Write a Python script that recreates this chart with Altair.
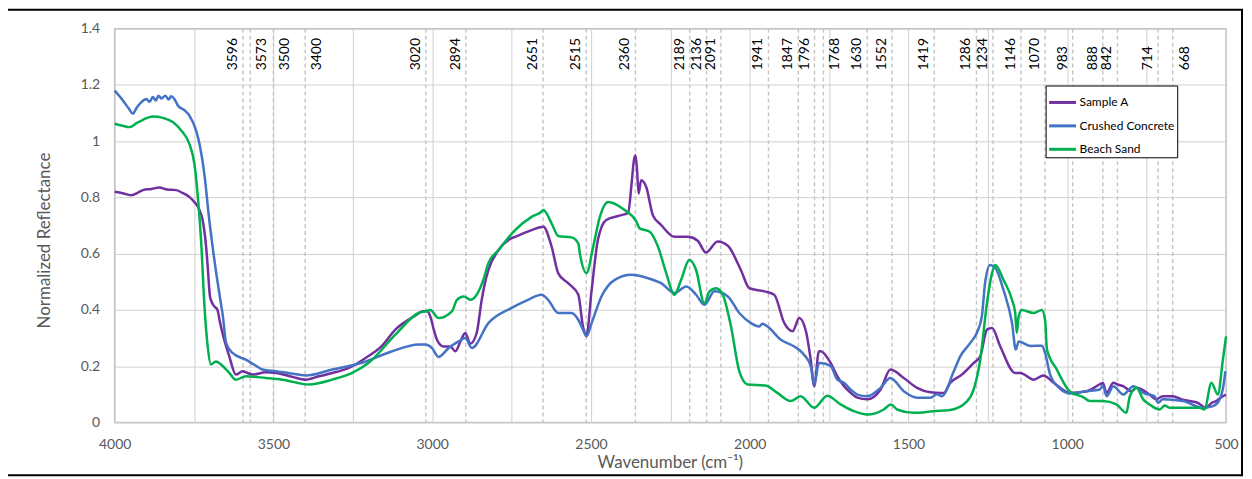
import altair as alt
import pandas as pd

# ---------------- data ----------------
series_names = ["Sample A", "Crushed Concrete", "Beach Sand"]
series_colors = ["#7030A0", "#4472C4", "#00B050"]

wn_a = [4000, 3975, 3948, 3925, 3911, 3885, 3859, 3835, 3806, 3785, 3765, 3750, 3738, 3733,
        3723, 3712, 3707, 3700, 3695, 3688, 3676, 3670, 3655, 3639, 3618, 3597, 3580, 3566,
        3524, 3492, 3440, 3398, 3357, 3300, 3262, 3210, 3160, 3116, 3060, 3027, 3016, 3006,
        2995, 2985, 2964, 2943, 2927, 2912, 2896, 2880, 2860, 2844, 2835, 2823, 2791, 2750,
        2739, 2687, 2650, 2624, 2603, 2572, 2540, 2525, 2514, 2498, 2478, 2452, 2415, 2383,
        2372, 2365, 2360, 2355, 2350, 2342, 2326, 2305, 2279, 2237, 2195, 2164, 2138, 2101,
        2069, 2028, 2001, 1954, 1923, 1891, 1865, 1844, 1823, 1808, 1797, 1782, 1777, 1745,
        1724, 1703, 1682, 1661, 1630, 1588, 1557, 1515, 1473, 1431, 1400, 1389, 1369, 1332,
        1295, 1274, 1253, 1237, 1211, 1164, 1148, 1106, 1075, 1043, 992, 939, 898, 888, 876,
        855, 842, 824, 798, 782, 741, 720, 699, 668, 640, 615, 590, 563, 545, 531, 515, 500]
refl_a = [0.820, 0.815, 0.808, 0.818, 0.826, 0.830, 0.835, 0.828, 0.826, 0.815, 0.802, 0.785,
          0.767, 0.755, 0.720, 0.625, 0.554, 0.450, 0.430, 0.415, 0.400, 0.365, 0.294, 0.235,
          0.170, 0.182, 0.175, 0.170, 0.178, 0.176, 0.162, 0.152, 0.164, 0.180, 0.194, 0.229,
          0.270, 0.330, 0.375, 0.395, 0.395, 0.377, 0.330, 0.294, 0.270, 0.270, 0.253, 0.285,
          0.318, 0.280, 0.318, 0.436, 0.490, 0.542, 0.613, 0.655, 0.660, 0.684, 0.696, 0.625,
          0.530, 0.495, 0.455, 0.340, 0.310, 0.470, 0.650, 0.720, 0.734, 0.745, 0.850, 0.930,
          0.950, 0.900, 0.814, 0.861, 0.837, 0.737, 0.702, 0.660, 0.660, 0.646, 0.604, 0.643,
          0.628, 0.542, 0.477, 0.466, 0.454, 0.353, 0.324, 0.371, 0.324, 0.223, 0.129, 0.253,
          0.253, 0.211, 0.164, 0.129, 0.105, 0.088, 0.082, 0.117, 0.188, 0.158, 0.123, 0.107,
          0.105, 0.105, 0.140, 0.170, 0.211, 0.235, 0.330, 0.336, 0.270, 0.176, 0.176, 0.152,
          0.167, 0.141, 0.105, 0.111, 0.135, 0.140, 0.105, 0.141, 0.135, 0.129, 0.111, 0.123,
          0.099, 0.082, 0.093, 0.093, 0.082, 0.076, 0.070, 0.052, 0.070, 0.076, 0.090, 0.099]

wn_c = [4000, 3974, 3955, 3943, 3930, 3916, 3900, 3890, 3880, 3870, 3862, 3853, 3840, 3830,
        3822, 3812, 3801, 3780, 3765, 3744, 3733, 3715, 3705, 3691, 3676, 3665, 3660, 3649,
        3629, 3587, 3560, 3534, 3492, 3450, 3398, 3315, 3221, 3126, 3043, 3022, 3001, 2980,
        2948, 2917, 2896, 2875, 2823, 2750, 2700, 2656, 2635, 2603, 2561, 2540, 2525, 2514,
        2498, 2467, 2425, 2373, 2321, 2279, 2237, 2200, 2169, 2143, 2111, 2069, 2033, 1996,
        1970, 1960, 1944, 1902, 1860, 1829, 1808, 1797, 1782, 1777, 1745, 1724, 1703, 1682,
        1661, 1630, 1588, 1557, 1515, 1473, 1431, 1410, 1395, 1358, 1337, 1306, 1285, 1269,
        1259, 1243, 1227, 1201, 1174, 1162, 1153, 1117, 1080, 1070, 1054, 1023, 992, 939, 898,
        888, 876, 855, 824, 792, 761, 725, 714, 699, 636, 573, 541, 520, 510, 502]
refl_c = [1.180, 1.145, 1.115, 1.098, 1.120, 1.139, 1.150, 1.140, 1.157, 1.145, 1.162, 1.152,
          1.162, 1.148, 1.160, 1.150, 1.127, 1.110, 1.092, 1.039, 0.991, 0.860, 0.750, 0.620,
          0.500, 0.420, 0.385, 0.283, 0.247, 0.223, 0.205, 0.188, 0.182, 0.175, 0.167, 0.188,
          0.212, 0.253, 0.277, 0.277, 0.265, 0.233, 0.265, 0.288, 0.300, 0.265, 0.353, 0.407,
          0.435, 0.454, 0.436, 0.389, 0.389, 0.365, 0.330, 0.306, 0.353, 0.448, 0.507, 0.525,
          0.513, 0.495, 0.460, 0.483, 0.454, 0.418, 0.466, 0.448, 0.389, 0.353, 0.341, 0.351,
          0.341, 0.294, 0.270, 0.241, 0.200, 0.135, 0.211, 0.211, 0.200, 0.152, 0.141, 0.117,
          0.099, 0.093, 0.123, 0.158, 0.111, 0.088, 0.088, 0.100, 0.093, 0.180, 0.235, 0.282,
          0.318, 0.377, 0.495, 0.560, 0.550, 0.471, 0.353, 0.259, 0.288, 0.272, 0.273, 0.247,
          0.170, 0.120, 0.103, 0.111, 0.117, 0.130, 0.093, 0.129, 0.099, 0.129, 0.105, 0.093,
          0.070, 0.082, 0.076, 0.052, 0.058, 0.082, 0.120, 0.182]

wn_s = [4000, 3975, 3953, 3930, 3911, 3880, 3848, 3817, 3791, 3765, 3749, 3738, 3728, 3717,
        3707, 3697, 3681, 3665, 3639, 3618, 3587, 3524, 3472, 3388, 3315, 3252, 3200, 3116,
        3043, 3022, 3006, 2980, 2938, 2922, 2901, 2880, 2860, 2839, 2823, 2791, 2739, 2687,
        2656, 2650, 2624, 2603, 2561, 2540, 2535, 2514, 2493, 2472, 2446, 2394, 2357, 2347,
        2315, 2289, 2263, 2237, 2216, 2190, 2169, 2143, 2127, 2106, 2085, 2059, 2033, 2007,
        1950, 1913, 1871, 1840, 1797, 1756, 1714, 1672, 1630, 1578, 1555, 1536, 1484, 1421,
        1369, 1316, 1295, 1274, 1253, 1237, 1227, 1201, 1174, 1164, 1159, 1153, 1143, 1106,
        1080, 1070, 1064, 1034, 992, 950, 929, 888, 845, 814, 803, 782, 761, 741, 709, 693,
        677, 636, 583, 568, 546, 526, 510, 500]
refl_s = [1.062, 1.055, 1.050, 1.065, 1.076, 1.088, 1.083, 1.068, 1.039, 0.991, 0.920, 0.802,
          0.650, 0.410, 0.270, 0.206, 0.217, 0.206, 0.176, 0.152, 0.164, 0.158, 0.152, 0.135,
          0.152, 0.176, 0.212, 0.312, 0.389, 0.395, 0.400, 0.371, 0.395, 0.436, 0.448, 0.436,
          0.454, 0.507, 0.566, 0.613, 0.684, 0.731, 0.749, 0.755, 0.708, 0.663, 0.658, 0.637,
          0.601, 0.531, 0.625, 0.731, 0.784, 0.755, 0.714, 0.690, 0.678, 0.625, 0.531, 0.454,
          0.507, 0.578, 0.542, 0.424, 0.465, 0.477, 0.454, 0.341, 0.182, 0.135, 0.131, 0.105,
          0.076, 0.093, 0.052, 0.095, 0.064, 0.040, 0.028, 0.046, 0.064, 0.046, 0.034, 0.040,
          0.044, 0.075, 0.117, 0.223, 0.424, 0.531, 0.560, 0.507, 0.436, 0.389, 0.318, 0.377,
          0.400, 0.389, 0.400, 0.365, 0.259, 0.190, 0.110, 0.090, 0.076, 0.076, 0.064, 0.034,
          0.093, 0.123, 0.082, 0.064, 0.046, 0.060, 0.052, 0.052, 0.052, 0.046, 0.141, 0.099,
          0.223, 0.306]

peaks = [3596, 3573, 3500, 3400, 3020, 2894, 2651, 2515, 2360, 2189, 2136, 2091, 1941, 1847,
         1796, 1768, 1630, 1552, 1419, 1286, 1234, 1146, 1070, 983, 888, 842, 714, 668]
peaks_label_right = [3573, 3500, 3400, 1768, 668]

x_ticks = list(range(500, 4001, 250))
y_ticks = [round(i * 0.1, 1) for i in range(15)]

# ---------------- tables ----------------
frames = []
for name, wn, r in zip(series_names, [wn_a, wn_c, wn_s], [refl_a, refl_c, refl_s]):
    frames.append(pd.DataFrame({"wn": wn, "refl": r, "series": name}))
df = pd.concat(frames, ignore_index=True)

peak_df = pd.DataFrame({
    "wn": peaks,
    "label": [str(p) for p in peaks],
    "side": ["R" if p in peaks_label_right else "L" for p in peaks],
})

FONT = "Lato"
GRAY_TXT = "#595959"
W, H = 1115, 395

x_scale = alt.Scale(domain=[500, 4000], reverse=True, nice=False, zero=False)
y_scale = alt.Scale(domain=[0, 1.4], nice=False)

x_axis = alt.Axis(
    values=x_ticks,
    labelExpr="datum.value % 500 == 0 ? toString(datum.value) : ''",
    title="Wavenumber (cm\u207b\u00b9)",
    titleX=557, titleY=40, titleBaseline="middle", titleAlign="center",
    labelPadding=15, labelFlush=False,
)
y_axis = alt.Axis(
    values=y_ticks,
    labelExpr="(round(datum.value*10) % 2 == 0) ? toString(round(datum.value*10)/10) : ''",
    title="Normalized Reflectance",
    titleX=-70, titleY=212, titleAngle=270, titleBaseline="middle", titleAlign="center",
    labelPadding=15,
)

rules = alt.Chart(peak_df).mark_rule(
    color="#c4c4c4", strokeDash=[4, 3], strokeWidth=1.4
).encode(x=alt.X("wn:Q", scale=x_scale, axis=x_axis))

lines = alt.Chart(df).mark_line(strokeWidth=2.5, interpolate="monotone").encode(
    x=alt.X("wn:Q", scale=x_scale, axis=x_axis),
    y=alt.Y("refl:Q", scale=y_scale, axis=y_axis),
    color=alt.Color(
        "series:N",
        scale=alt.Scale(domain=series_names, range=series_colors),
        sort=series_names,
        legend=alt.Legend(
            title=None, orient="none", legendX=934, legendY=57,
            symbolType="stroke", symbolStrokeWidth=3, symbolSize=729,
            labelFont=FONT, labelFontSize=12, labelColor="black",
            strokeColor="black", fillColor="white", padding=2,
            rowPadding=2.5, labelOffset=2, cornerRadius=0,
        ),
    ),
)

labels_left = alt.Chart(peak_df).transform_filter("datum.side == 'L'").mark_text(
    angle=270, align="left", baseline="middle", dy=-10,
    font=FONT, fontSize=14, color="black",
).encode(x=alt.X("wn:Q", scale=x_scale), y=alt.datum(1.252, scale=y_scale), text="label:N")

labels_right = alt.Chart(peak_df).transform_filter("datum.side == 'R'").mark_text(
    angle=270, align="left", baseline="middle", dy=12,
    font=FONT, fontSize=14, color="black",
).encode(x=alt.X("wn:Q", scale=x_scale), y=alt.datum(1.252, scale=y_scale), text="label:N")

frame = alt.Chart(pd.DataFrame({"k": [0]})).mark_rect(
    filled=False, stroke="black", strokeWidth=2
).encode(x=alt.value(-108), x2=alt.value(1131), y=alt.value(-19), y2=alt.value(448))

chart = alt.layer(rules, lines, labels_left, labels_right, frame).properties(
    width=W, height=H,
    padding={"left": 107, "top": 20, "right": 18, "bottom": 55},
    autosize=alt.AutoSizeParams(type="none"),
).configure_view(
    stroke="#bfbfbf", strokeWidth=1.5
).configure_axis(
    ticks=False, domain=False, grid=True, gridColor="#d0d0d0", gridWidth=1,
    labelFont=FONT, labelFontSize=14, labelColor=GRAY_TXT,
    titleFont=FONT, titleFontSize=17, titleFontWeight="normal", titleColor=GRAY_TXT,
)

chart.save("out.html", embed_options={"renderer": "svg", "actions": False})
